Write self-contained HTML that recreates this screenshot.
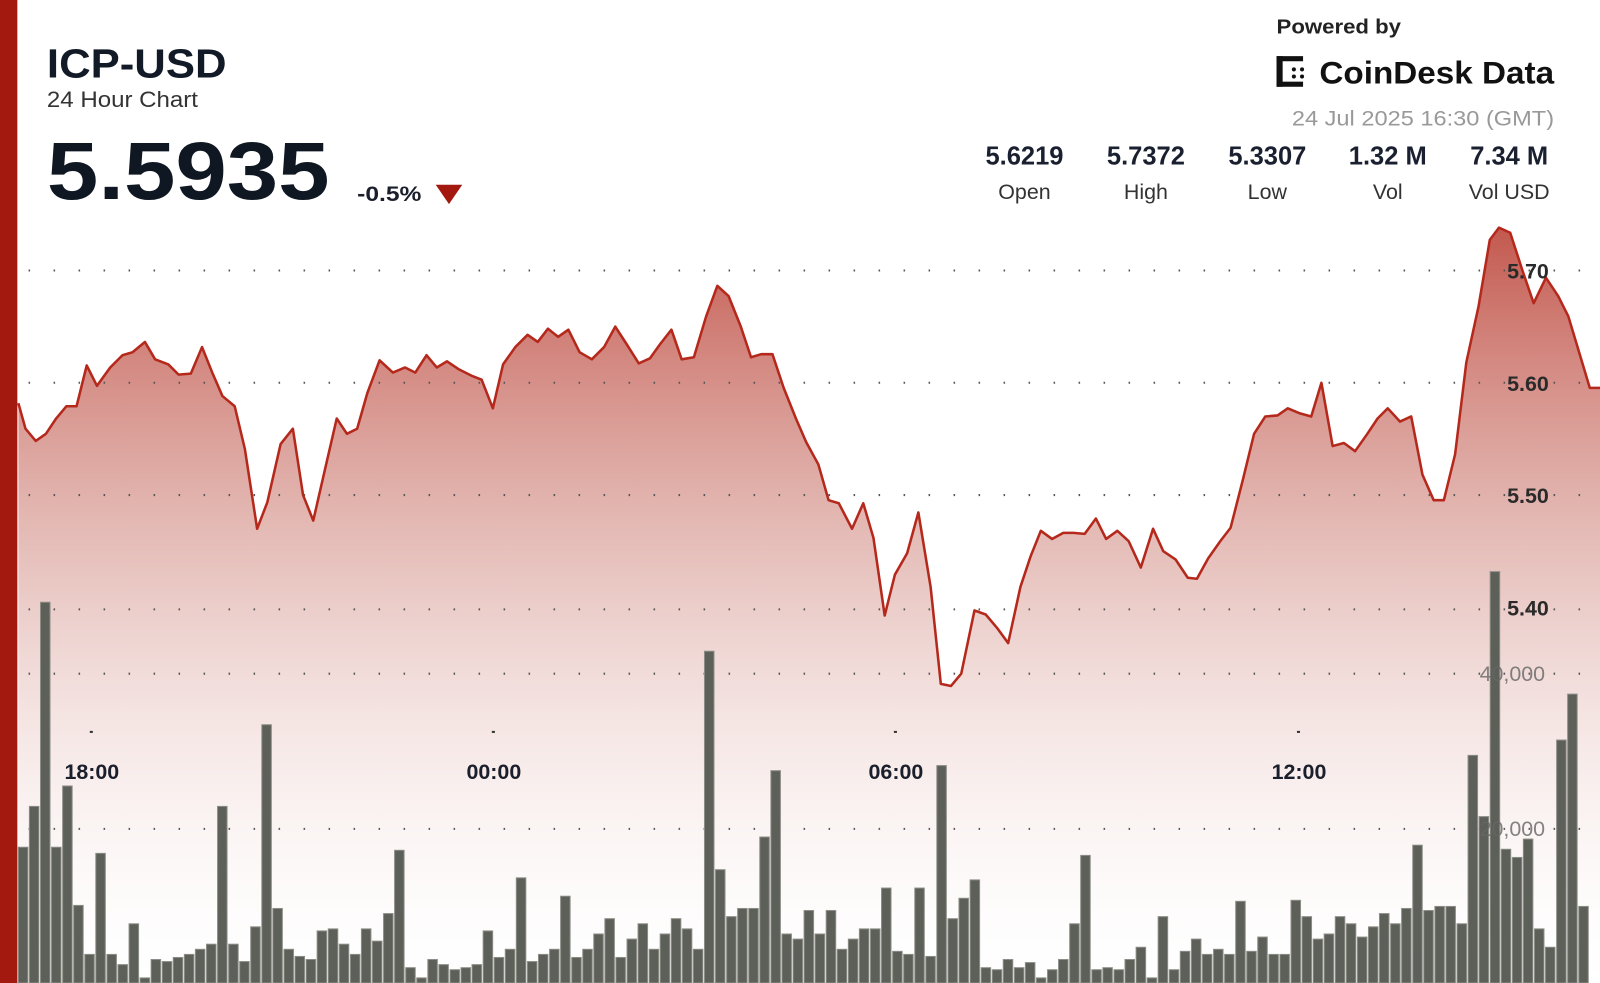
<!DOCTYPE html>
<html><head><meta charset="utf-8"><style>
html,body{margin:0;padding:0;background:#fff;width:1600px;height:983px;overflow:hidden}
svg{display:block}
text{font-family:"Liberation Sans",sans-serif}
</style></head><body>
<svg id="s" width="1600" height="983" viewBox="0 0 1568 963" preserveAspectRatio="none">
<defs>
<linearGradient id="g" gradientUnits="userSpaceOnUse" x1="0" y1="220" x2="0" y2="963">
<stop offset="0" stop-color="#b83a2e" stop-opacity="0.85"/>
<stop offset="0.45" stop-color="#d4928a" stop-opacity="0.55"/>
<stop offset="1" stop-color="#ffffff" stop-opacity="0.1"/>
</linearGradient>
</defs>
<rect x="0" y="0" width="17" height="963" fill="#a4190f"/>
<path id="area" fill="url(#g)"/>
<g id="grid" stroke="#555" stroke-width="2" stroke-dasharray="1.5 23"></g>
<g id="bars"></g>
<path id="line" fill="none" stroke="#b5291c" stroke-width="2.5" stroke-linejoin="round"/>
<g font-weight="bold" font-size="21" fill="#2a2a2a">
<text x="1477" y="273">5.70</text><text x="1477" y="383">5.60</text><text x="1477" y="493">5.50</text><text x="1477" y="603">5.40</text>
</g>
<g font-size="21" fill="#666" opacity="0.8"><text x="1450" y="667">40,000</text><text x="1450" y="819">20,000</text></g>
<g font-weight="bold" font-size="21" fill="#1a1f2b" text-anchor="middle">
<text x="90" y="763">18:00</text><text x="484" y="763">00:00</text><text x="878" y="763">06:00</text><text x="1273" y="763">12:00</text>
</g>
<g fill="#333"><rect x="88" y="716" width="3" height="2"/><rect x="482" y="716" width="3" height="2"/><rect x="876" y="716" width="3" height="2"/><rect x="1271" y="716" width="3" height="2"/></g>
<text x="46" y="76" font-size="40" font-weight="bold" fill="#111a26" textLength="176" lengthAdjust="spacingAndGlyphs">ICP-USD</text>
<text x="46" y="105" font-size="22" fill="#333" textLength="148" lengthAdjust="spacingAndGlyphs">24 Hour Chart</text>
<text x="46" y="195" font-size="80" font-weight="bold" fill="#0f1722" textLength="277" lengthAdjust="spacingAndGlyphs">5.5935</text>
<text x="350" y="197" font-size="21" font-weight="bold" fill="#1a1f2b" textLength="63" lengthAdjust="spacingAndGlyphs">-0.5%</text>
<polygon points="427,181 453,181 440,200" fill="#a4190f"/>
<text x="1251" y="33" font-size="20" font-weight="bold" fill="#222" textLength="122" lengthAdjust="spacingAndGlyphs">Powered by</text>
<g fill="#111"><rect x="1251" y="55" width="6" height="30"/><rect x="1251" y="55" width="26" height="5"/><rect x="1251" y="80" width="26" height="5"/><circle cx="1268" cy="68" r="2"/><circle cx="1276" cy="68" r="2"/><circle cx="1268" cy="75" r="2"/><circle cx="1276" cy="75" r="2"/></g>
<text x="1293" y="82" font-size="31" font-weight="bold" fill="#111" textLength="230" lengthAdjust="spacingAndGlyphs">CoinDesk Data</text>
<text x="1523" y="123" font-size="21" fill="#999" text-anchor="end" textLength="257" lengthAdjust="spacingAndGlyphs">24 Jul 2025 16:30 (GMT)</text>
<g font-size="25" font-weight="bold" fill="#1a2030" text-anchor="middle">
<text x="1004" y="161">5.6219</text><text x="1123" y="161">5.7372</text><text x="1242" y="161">5.3307</text><text x="1360" y="161">1.32 M</text><text x="1479" y="161">7.34 M</text>
</g>
<g font-size="21" fill="#333" text-anchor="middle">
<text x="1004" y="195">Open</text><text x="1123" y="195">High</text><text x="1242" y="195">Low</text><text x="1360" y="195">Vol</text><text x="1479" y="195">Vol USD</text>
</g>
</svg>
<script>
var P=[18,395,25,420,35,432,45,425,55,410,65,398,75,398,85,358,95,378,108,360,120,348,130,345,142,335,152,352,165,357,175,367,187,366,198,340,208,365,218,388,230,398,240,440,252,518,262,492,275,435,287,420,297,485,307,510,318,462,330,410,340,425,350,420,360,385,372,353,385,365,397,360,407,365,418,348,428,360,438,354,450,362,462,368,472,372,483,400,493,357,505,340,517,328,527,335,537,322,547,330,557,323,568,345,580,352,592,340,603,320,614,337,626,356,637,351,647,337,658,323,668,352,680,350,692,310,703,280,714,290,726,320,736,350,746,347,757,347,768,380,780,410,790,433,802,455,812,490,822,493,835,518,846,493,856,527,867,603,877,563,889,542,900,502,912,575,922,670,932,672,942,660,955,598,966,602,977,615,988,630,1000,575,1010,545,1020,520,1031,528,1042,522,1052,522,1063,523,1074,508,1084,528,1095,520,1106,530,1118,556,1130,518,1140,540,1152,548,1164,566,1173,567,1184,547,1196,530,1206,517,1218,470,1229,425,1240,408,1252,407,1262,400,1274,405,1285,408,1295,375,1306,437,1317,434,1328,442,1340,425,1350,410,1360,400,1372,413,1383,408,1394,465,1405,490,1415,490,1426,445,1437,355,1449,300,1460,235,1469,223,1480,228,1492,265,1503,297,1515,272,1527,290,1537,310,1549,350,1558,380,1568,380];
var d="";for(var i=0;i<P.length;i+=2)d+=(i?"L":"M")+P[i]+","+P[i+1];
document.getElementById("line").setAttribute("d",d);
document.getElementById("area").setAttribute("d",d+"L1568,963L18,963Z");
var B=[830,790,590,830,770,887,935,836,935,945,905,958,940,942,938,935,930,925,790,925,942,908,710,890,930,937,940,912,910,925,935,910,922,895,833,948,958,940,945,950,948,945,912,938,930,860,942,935,930,878,938,930,915,900,938,920,905,930,915,900,910,930,638,852,898,890,890,820,755,915,920,892,915,892,930,920,910,910,870,932,935,870,937,750,900,880,862,948,950,940,948,943,958,950,940,905,838,950,948,950,940,928,958,898,950,932,920,935,930,935,883,932,918,935,935,882,898,920,915,898,905,918,908,895,905,890,828,892,888,888,905,740,800,560,832,840,822,910,928,725,680,888];
var h="",w=(1558-18)/B.length;
for(var i=0;i<B.length;i++){var x=18+i*w;h+='<rect x="'+x.toFixed(1)+'" y="'+B[i]+'" width="'+(w-1.5).toFixed(1)+'" height="'+(963-B[i])+'" fill="#5c6058" stroke="#8c8c86" stroke-width="1"/>';}
document.getElementById("bars").innerHTML=h;
var g="";[265,375,485,597,660,812].forEach(function(y){g+='<line x1="28" y1="'+y+'" x2="1560" y2="'+y+'"/>';});
document.getElementById("grid").innerHTML=g;
</script>
</body></html>
